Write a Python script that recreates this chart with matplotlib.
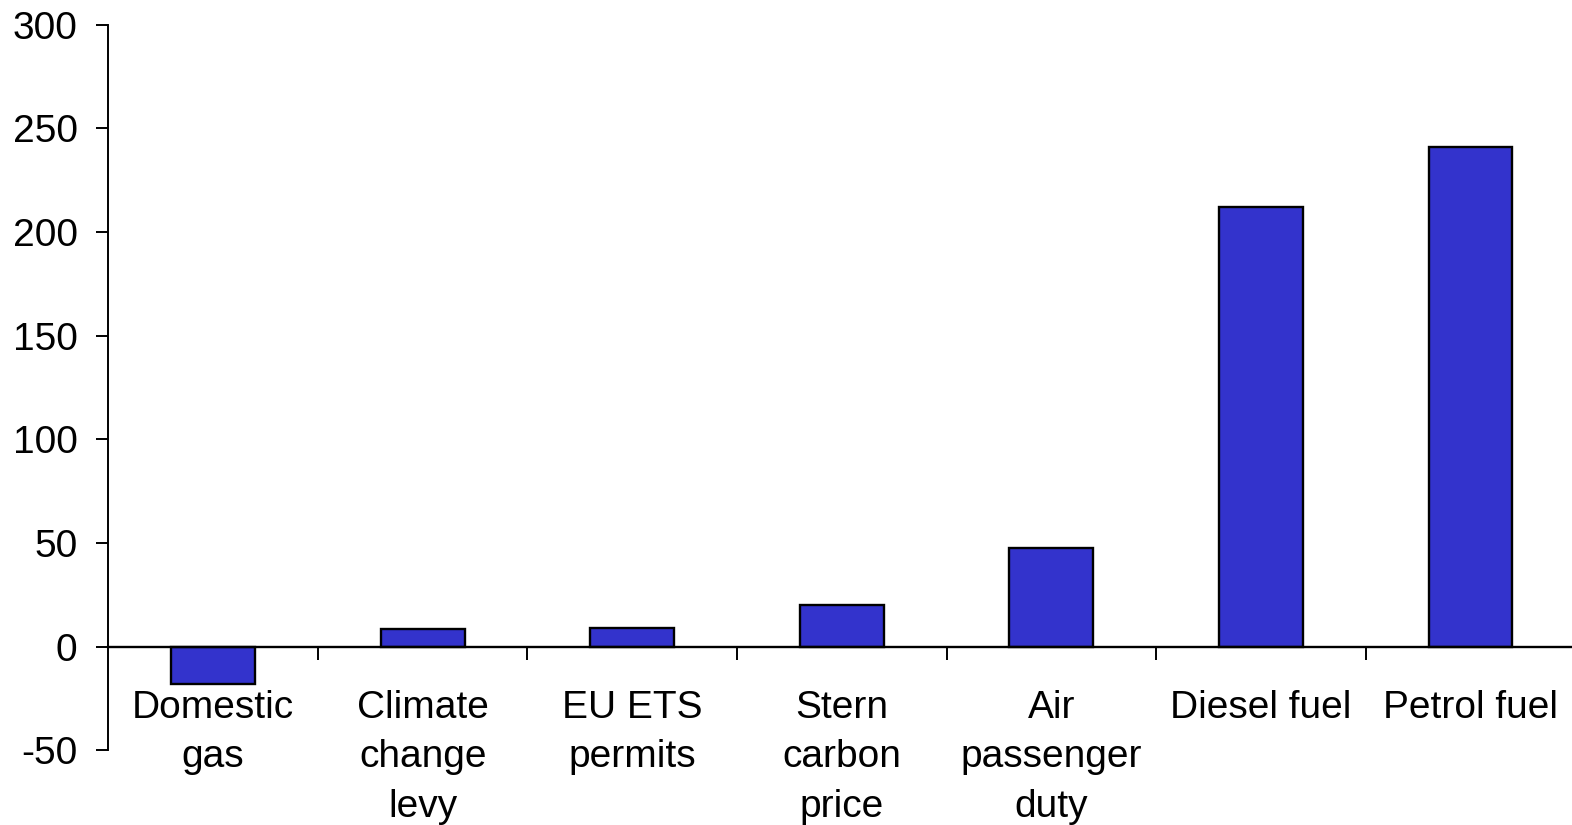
import matplotlib
matplotlib.use("Agg")
import matplotlib.pyplot as plt
import numpy as np

plt.rcParams["font.family"] = ["Liberation Sans", "DejaVu Sans"]

# Data
categories = ["Domestic\ngas", "Climate\nchange\nlevy", "EU ETS\npermits",
              "Stern\ncarbon\nprice", "Air\npassenger\nduty", "Diesel fuel", "Petrol fuel"]
values = [-18, 8.5, 9, 20, 47.5, 212, 241]
y_ticks = [-50, 0, 50, 100, 150, 200, 250, 300]

bar_color = "#3333cc"

fig = plt.figure(figsize=(15.72, 8.25), dpi=100)
ax = fig.add_axes([0.0689, 0.0905, 0.9332, 0.8795])

x = np.arange(len(categories))
ax.bar(x, values, width=0.4, color=bar_color, edgecolor="black", linewidth=1.7, zorder=2)

ax.set_xlim(-0.5, len(categories) - 0.5)
ax.set_ylim(-50, 300)
ax.set_yticks(y_ticks)
ax.set_yticklabels([str(v) for v in y_ticks])

# category boundaries get tick marks, centres get the labels
ax.set_xticks(np.arange(0.5, len(categories) - 0.5, 1.0))
ax.set_xticklabels([])
ax.set_xticks(x, minor=True)
ax.set_xticklabels(categories, minor=True)

ax.spines["top"].set_visible(False)
ax.spines["right"].set_visible(False)
ax.spines["bottom"].set_position(("data", 0))
ax.spines["bottom"].set_linewidth(1.7)
ax.spines["left"].set_linewidth(1.4)
ax.spines["bottom"].set_zorder(3)

ax.tick_params(axis="y", length=8.6, width=1.4, pad=13.5, direction="out", labelsize=28)
ax.tick_params(axis="x", which="major", length=9, width=1.4, direction="out")
ax.tick_params(axis="x", which="minor", length=0, pad=31, labelsize=28)
for lbl in ax.get_xticklabels(minor=True):
    lbl.set_linespacing(1.49)

fig.savefig("out.png", dpi=100)
